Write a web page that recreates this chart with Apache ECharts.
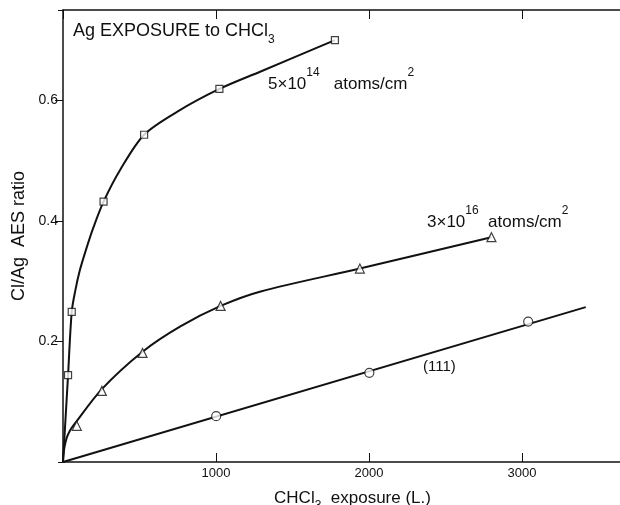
<!DOCTYPE html>
<html>
<head>
<meta charset="utf-8">
<script src="https://cdn.jsdelivr.net/npm/echarts@6/dist/echarts.min.js"></script>
<style>
  html, body { margin: 0; padding: 0; background: #fff; }
  #main { width: 620px; height: 505px; }
</style>
</head>
<body>
<div id="main"></div>
<script>
// 数据
var xTicks = [1000, 2000, 3000];
var yTicks = [0.2, 0.4, 0.6];

// 5x10^14 atoms/cm2 (方块)
var sqPoints = [[33, 0.144], [57, 0.249], [265, 0.432], [530, 0.543], [1022, 0.619], [1777, 0.700]];
// 沿曲线读取的点
var sqCurve = [[0, 0], [33, 0.144], [57, 0.249], [80, 0.284], [110, 0.318], [150, 0.352],
  [200, 0.39], [265, 0.432], [374, 0.485], [530, 0.543], [745, 0.581], [1022, 0.619],
  [1292, 0.648], [1777, 0.700]];

// 3x10^16 atoms/cm2 (三角)
var triPoints = [[90, 0.060], [254, 0.118], [520, 0.181], [1030, 0.259], [1940, 0.321], [2800, 0.373]];
var triCurve = [[0, 0], [3, 0.012], [10, 0.025], [24, 0.04], [45, 0.052], [72, 0.062],
  [254, 0.121], [520, 0.183], [767, 0.225], [1030, 0.259], [1292, 0.283], [1940, 0.321], [2800, 0.373]];

// (111) (圆圈)
var circPoints = [[1001, 0.076], [2002, 0.148], [3040, 0.233]];
var circLine = [[0, 0], [3416, 0.257]];

var font = 'Liberation Sans';
var ink = '#111';

var myChart = echarts.init(document.getElementById('main'));

function curve(data) {
  return {
    type: 'line',
    data: data,
    smooth: 0.3,
    showSymbol: false,
    lineStyle: { color: ink, width: 2 },
    silent: true,
    z: 2
  };
}

function marks(data, symbol, size) {
  return {
    type: 'scatter',
    data: data,
    symbol: symbol,
    symbolSize: size,
    itemStyle: { color: '#fff', borderColor: ink, borderWidth: 1.2 },
    z: 5
  };
}

var supRich = {
  a: { fontFamily: font, fontSize: 17, fill: ink, lineHeight: 26, verticalAlign: 'bottom' },
  p: { fontFamily: font, fontSize: 12, fill: ink, lineHeight: 26, verticalAlign: 'top' }
};

var option = {
  backgroundColor: '#fff',
  animation: false,
  grid: { left: 63, top: 10, right: 0, bottom: 43, containLabel: false, outerBoundsMode: 'none' },
  xAxis: [
    {
      type: 'value',
      min: 0,
      max: 3640,
      interval: 1000,
      name: '{a|CHCl}{s|3}{a|  exposure (L.)}',
      nameLocation: 'middle',
      nameGap: 28,
      nameTextStyle: {
        padding: [0, 0, 0, 22],
        rich: {
          a: { fontFamily: font, fontSize: 17, color: ink, lineHeight: 22, verticalAlign: 'top' },
          s: { fontFamily: font, fontSize: 12, color: ink, lineHeight: 22, verticalAlign: 'bottom' }
        }
      },
      splitLine: { show: false },
      axisLine: { show: true, onZero: false, lineStyle: { color: ink, width: 1.5 } },
      axisTick: { show: true, inside: true, length: 9, lineStyle: { color: ink } },
      axisLabel: {
        showMinLabel: false,
        showMaxLabel: false,
        margin: 5,
        fontFamily: font,
        fontSize: 13,
        color: ink,
        formatter: function (v) { return xTicks.indexOf(v) >= 0 ? String(v) : ''; }
      }
    },
    {
      type: 'value',
      position: 'top',
      min: 0,
      max: 3640,
      interval: 1000,
      splitLine: { show: false },
      axisLine: { show: true, onZero: false, lineStyle: { color: ink, width: 1.5 } },
      axisTick: { show: true, inside: true, length: 9, lineStyle: { color: ink } },
      axisLabel: { show: false }
    }
  ],
  yAxis: [
    {
      type: 'value',
      min: 0,
      max: 0.75,
      interval: 0.2,
      name: 'Cl/Ag  AES ratio',
      nameLocation: 'middle',
      nameRotate: 90,
      nameGap: 35,
      nameTextStyle: { fontFamily: font, fontSize: 18, color: ink },
      splitLine: { show: false },
      axisLine: { show: true, onZero: false, lineStyle: { color: ink, width: 1.5 } },
      axisTick: { show: true, inside: false, length: 8, lineStyle: { color: ink } },
      axisLabel: {
        showMinLabel: false,
        showMaxLabel: false,
        margin: 5,
        fontFamily: font,
        fontSize: 14,
        color: ink,
        formatter: function (v) {
          var t = Math.round(v * 10) / 10;
          return yTicks.indexOf(t) >= 0 ? t.toFixed(1) : '';
        }
      }
    },
    {
      type: 'value',
      position: 'right',
      min: 0,
      max: 0.75,
      interval: 0.2,
      splitLine: { show: false },
      axisLine: { show: false },
      axisTick: { show: true, inside: true, length: 5, lineStyle: { color: ink } },
      axisLabel: { show: false }
    }
  ],
  graphic: [
    {
      type: 'text', left: 73, top: 22,
      style: {
        text: '{a|Ag EXPOSURE to CHCl}{s|3}',
        rich: {
          a: { fontFamily: font, fontSize: 18, fill: ink, lineHeight: 24, verticalAlign: 'top' },
          s: { fontFamily: font, fontSize: 12, fill: ink, lineHeight: 24, verticalAlign: 'bottom' }
        }
      }
    },
    {
      type: 'text', left: 268, top: 67,
      style: { text: '{a|5×10}{p|14}{a|   atoms/cm}{p|2}', rich: supRich }
    },
    {
      type: 'text', left: 427, top: 205,
      style: { text: '{a|3×10}{p|16}{a|  atoms/cm}{p|2}', rich: supRich }
    },
    {
      type: 'text', left: 423, top: 359,
      style: { text: '(111)', fontFamily: font, fontSize: 15, fill: ink }
    }
  ],
  series: [
    curve(sqCurve),
    curve(triCurve),
    {
      type: 'line',
      data: circLine,
      showSymbol: false,
      lineStyle: { color: ink, width: 2 },
      silent: true,
      z: 2
    },
    marks(sqPoints, 'rect', 7),
    marks(triPoints, 'triangle', 9),
    marks(circPoints, 'circle', 9)
  ]
};

myChart.setOption(option);
</script>
</body>
</html>
